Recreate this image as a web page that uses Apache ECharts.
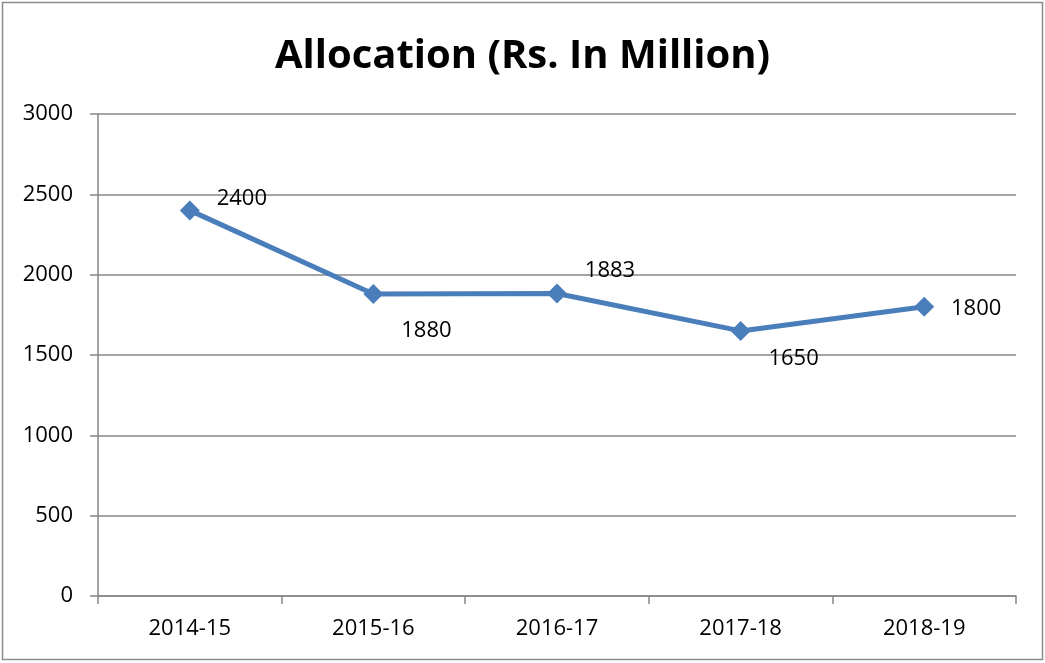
<!DOCTYPE html>
<html><head><meta charset="utf-8">
<script src="https://cdn.jsdelivr.net/npm/echarts@6/dist/echarts.min.js"></script>
<style>html,body{margin:0;padding:0;background:#fff}#c{width:1045px;height:663px}</style>
</head><body><div id="c"></div>
<script>
const titleText = 'Allocation (Rs. In Million)';
const categories = ['2014-15','2015-16','2016-17','2017-18','2018-19'];
const values = [2400, 1880, 1883, 1650, 1800];
const yTicks = [0, 500, 1000, 1500, 2000, 2500, 3000];
const labelOffsets = [[52,-12],[53,37],[53,-23],[53,28],[52,2]];

const chart = echarts.init(document.getElementById('c'));
const FONT = '"Open Sans", "Liberation Sans", sans-serif';
chart.setOption({
  animation: false,
  title: { text: titleText, left: 'center', top: 32,
    textStyle: { fontFamily: FONT, fontSize: 40, fontWeight: 'bold', color: '#000' } },
  graphic: [{ type: 'rect', shape: { x: 2.5, y: 2.5, width: 1040, height: 657 },
    style: { fill: 'none', stroke: '#8c8c8c', lineWidth: 1.5 }, silent: true }],
  grid: { left: 98, right: 29, top: 114, bottom: 67 },
  xAxis: { type: 'category', data: categories, boundaryGap: true,
    axisLine: { lineStyle: { color: '#868686', width: 1.5 } },
    axisTick: { show: true, length: 8, alignWithLabel: false, lineStyle: { color: '#868686', width: 1.5 } },
    axisLabel: { fontFamily: FONT, fontSize: 22, color: '#000', margin: 22 } },
  yAxis: { type: 'value', min: yTicks[0], max: yTicks[yTicks.length-1], interval: 500,
    axisLine: { show: true, lineStyle: { color: '#868686', width: 1.5 } },
    axisTick: { show: true, length: 8, lineStyle: { color: '#868686', width: 1.5 } },
    splitLine: { lineStyle: { color: '#868686', width: 1.5 } },
    axisLabel: { fontFamily: FONT, fontSize: 22, color: '#000', margin: 25, formatter: v => String(v) } },
  series: [{
    type: 'line', data: values.map((v,i)=>({ value: v, label: { offset: labelOffsets[i] } })),
    symbol: 'diamond', symbolSize: 20,
    lineStyle: { color: '#4a7ebb', width: 5 },
    itemStyle: { color: '#4a7ebb' },
    label: { show: true, position: 'inside', fontFamily: FONT, fontSize: 22, color: '#000' }
  }]
});
</script></body></html>
